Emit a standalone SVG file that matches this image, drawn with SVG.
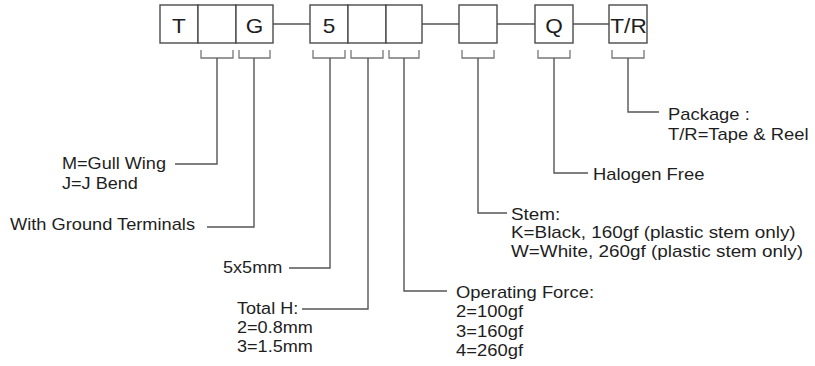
<svg xmlns="http://www.w3.org/2000/svg" width="815" height="366" viewBox="0 0 815 366">
<style>
.box{fill:#fff;stroke:#4a4a4a;stroke-width:1.4}
.ln{fill:none;stroke:#555;stroke-width:1.4}
.bk{fill:none;stroke:#777;stroke-width:1.3}
.bl{font-family:"Liberation Sans",Arial,sans-serif;font-size:20px;fill:#1e1e1e;text-anchor:middle}
.t{font-family:"Liberation Sans",Arial,sans-serif;font-size:16px;fill:#1e1e1e}
</style>
<rect width="815" height="366" fill="#fff"/>
<g id="connectors">
<path class="ln" d="M273 24H310M422 24H459M497 24H535M573 24H609"/>
<path class="bk" d="M201 50V58H233V50M239 50V58H270V50M313 50V58H345V50M351 50V58H383V50M389 50V58H419V50M462 50V58H494V50M538 50V58H570V50M612 50V58H644V50"/>
<path class="ln" d="M217 58V164H175M254 58V227H207M330 58V268H289M368 58V309H302M404 58V291H447M478 58V213H507M554 58V173H588M628 58V112H659"/>
</g>
<g id="box-T"><rect class="box" x="160" y="5" width="38" height="38"/><text class="bl" transform="translate(179,33) scale(1.13,1)">T</text></g>
<g id="box-2"><rect class="box" x="198" y="5" width="38" height="38"/></g>
<g id="box-G"><rect class="box" x="236" y="5" width="37" height="38"/><text class="bl" transform="translate(254.5,33) scale(1.13,1)">G</text></g>
<g id="box-5"><rect class="box" x="310" y="5" width="38" height="38"/><text class="bl" transform="translate(329,33) scale(1.13,1)">5</text></g>
<g id="box-6"><rect class="box" x="348" y="5" width="38" height="38"/></g>
<g id="box-7"><rect class="box" x="386" y="5" width="36" height="38"/></g>
<g id="box-9"><rect class="box" x="459" y="5" width="38" height="38"/></g>
<g id="box-Q"><rect class="box" x="535" y="5" width="38" height="38"/><text class="bl" transform="translate(554,33) scale(1.13,1)">Q</text></g>
<g id="box-TR"><rect class="box" x="609" y="5" width="38" height="38"/><text class="bl" transform="translate(628.5,33) scale(1.13,1)">T/R</text></g>
<g id="label-terminal"><text class="t" transform="translate(62,169) scale(1.13,1)"><tspan x="0" y="0">M=Gull Wing</tspan><tspan x="0" y="20">J=J Bend</tspan></text></g>
<g id="label-ground"><text class="t" transform="translate(10,230) scale(1.14,1)">With Ground Terminals</text></g>
<g id="label-size"><text class="t" transform="translate(223,273) scale(1.13,1)">5x5mm</text></g>
<g id="label-height"><text class="t" transform="translate(237,314) scale(1.13,1)"><tspan x="0" y="0">Total H:</tspan><tspan x="0" y="19">2=0.8mm</tspan><tspan x="0" y="38">3=1.5mm</tspan></text></g>
<g id="label-force"><text class="t" transform="translate(456,298) scale(1.15,1)"><tspan x="0" y="0">Operating Force:</tspan><tspan x="0" y="19.3">2=100gf</tspan><tspan x="0" y="38.6">3=160gf</tspan><tspan x="0" y="58">4=260gf</tspan></text></g>
<g id="label-stem"><text class="t" transform="translate(511,220) scale(1.18,1)"><tspan x="0" y="0">Stem:</tspan><tspan x="0" y="18.5">K=Black, 160gf (plastic stem only)</tspan><tspan x="0" y="37">W=White, 260gf (plastic stem only)</tspan></text></g>
<g id="label-halogen"><text class="t" transform="translate(593,180) scale(1.15,1)">Halogen Free</text></g>
<g id="label-package"><text class="t" transform="translate(668,120) scale(1.15,1)"><tspan x="0" y="0">Package :</tspan><tspan x="0" y="20">T/R=Tape &amp; Reel</tspan></text></g>
</svg>
